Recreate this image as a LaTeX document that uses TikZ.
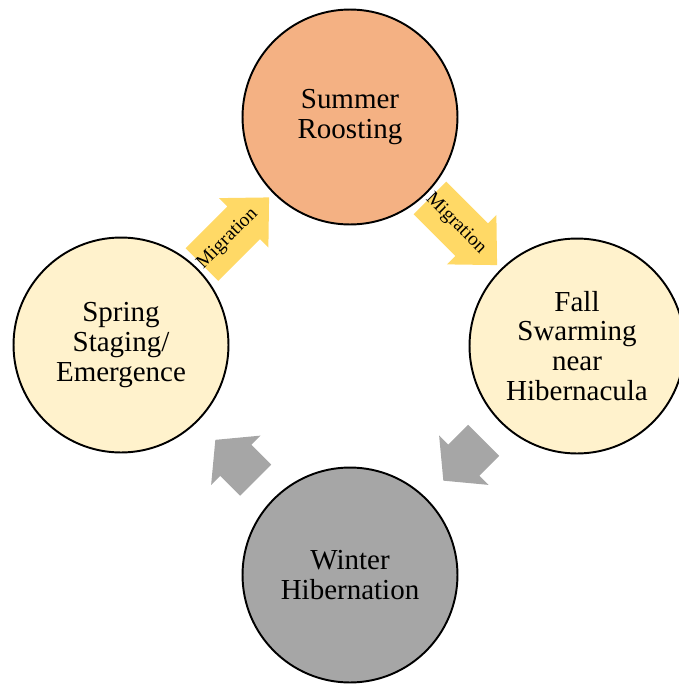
\documentclass[tikz,border=0pt]{standalone}
\usepackage{fontspec}
\setmainfont{Liberation Serif}
\usetikzlibrary{calc}

\definecolor{summerfill}{HTML}{F4B183}
\definecolor{paleyellow}{HTML}{FFF2CC}
\definecolor{wintergray}{HTML}{A6A6A6}
\definecolor{migyellow}{HTML}{FFD966}

\tikzset{
  season/.style={circle, draw=black, line width=1.1pt, minimum size=4.3cm,
    inner sep=0pt, align=center, font=\fontsize{16.5}{17}\selectfont},
  migarrow/.style={fill=migyellow},
  grayarrow/.style={fill=wintergray},
  miglabel/.style={font=\fontsize{11}{12}\selectfont, inner sep=0pt},
}

\begin{document}
\begin{tikzpicture}[x=0.02cm,y=-0.02cm]
\useasboundingbox (0,0) rectangle (679,684);
% the four seasons
\node[season, fill=summerfill] (summer) at (350,117) {Summer\\Roosting};
\node[season, fill=paleyellow] (fall) at (577,346) {Fall\\Swarming\\near\\Hibernacula};
\node[season, fill=wintergray] (winter) at (350,575) {Winter\\Hibernation};
\node[season, fill=paleyellow] (spring) at (121,345) {Spring\\Staging/\\Emergence};
% migration arrows
\begin{scope}[shift={($(spring)!0.5!(summer)$)}, rotate=45]
\fill[migarrow] (-47.5,-23) -- (11.5,-23) -- (11.5,-35) -- (47.5,0)
  -- (11.5,35) -- (11.5,23) -- (-47.5,23) -- cycle;
\node[miglabel, rotate=45] (mig-up) at (-11,0) {Migration};
\end{scope}
\begin{scope}[shift={($(summer)!0.5!(fall)$)}, rotate=-45]
\fill[migarrow] (-47.5,-23) -- (11.5,-23) -- (11.5,-35) -- (47.5,0)
  -- (11.5,35) -- (11.5,23) -- (-47.5,23) -- cycle;
\node[miglabel, rotate=-45] (mig-down) at (-11,0) {Migration};
\end{scope}
% gray arrows
\begin{scope}[shift={($(fall)!0.5!(winter)$)}, rotate=-135]
\fill[grayarrow] (-28.5,-22) -- (-0.5,-22) -- (-0.5,-35) -- (28.5,0)
  -- (-0.5,35) -- (-0.5,22) -- (-28.5,22) -- cycle;
\end{scope}
\begin{scope}[shift={($(winter)!0.5!(spring)$)}, rotate=135]
\fill[grayarrow] (-28.5,-22) -- (-0.5,-22) -- (-0.5,-35) -- (28.5,0)
  -- (-0.5,35) -- (-0.5,22) -- (-28.5,22) -- cycle;
\end{scope}
\end{tikzpicture}
\end{document}
